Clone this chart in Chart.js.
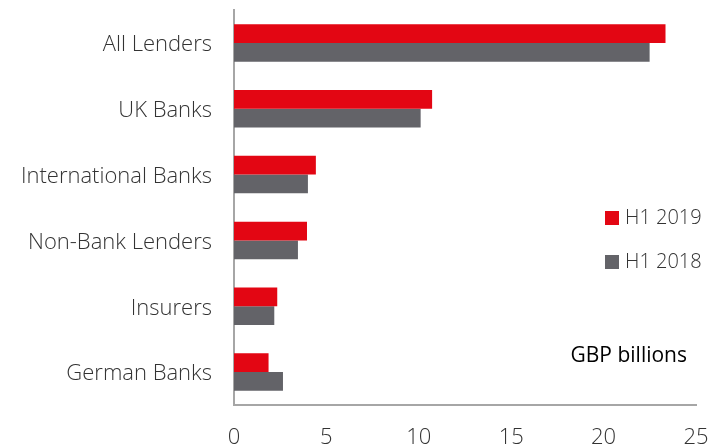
<!DOCTYPE html>
<html>
<head>
<meta charset="utf-8">
<script src="https://cdn.jsdelivr.net/npm/chart.js@4/dist/chart.umd.min.js"></script>
<style>
    html, body { margin: 0; padding: 0; background: #fff; }
    #wrap { width: 725px; height: 447px; position: relative; }
</style>
</head>
<body>
<div id="wrap"><canvas id="lenderChart"></canvas></div>
<script>
const lenders = ["All Lenders", "UK Banks", "International Banks", "Non-Bank Lenders", "Insurers", "German Banks"];
const h1_2019 = [23.35, 10.72, 4.43, 3.95, 2.34, 1.87];
const h1_2018 = [22.49, 10.1, 4.0, 3.46, 2.18, 2.65];
const xTicks = [0, 5, 10, 15, 20, 25];
const unitNote = "GBP billions";

const FONT = "'Open Sans', 'Liberation Sans', sans-serif";
const RED = "#e30613";
const GREY = "#636368";

// legend squares + unit note drawn inside the plot area
const sideLegend = {
    id: "sideLegend",
    afterDraw(chart) {
        const ctx = chart.ctx;
        ctx.save();
        ctx.font = "300 20px " + FONT;
        ctx.textBaseline = "middle";
        ctx.textAlign = "left";
        chart.data.datasets.forEach((ds, i) => {
            const y = 218 + i * 44;
            ctx.fillStyle = ds.backgroundColor;
            ctx.fillRect(605, y - 7, 14, 14);
            ctx.fillStyle = "#333";
            ctx.fillText(ds.label, 625, y);
        });
        ctx.font = "400 21px " + FONT;
        ctx.fillStyle = "#000";
        ctx.textAlign = "right";
        ctx.fillText(unitNote, 687, 356);
        ctx.restore();
    }
};

// keep the plot edges where we put them, not shifted by label overhang
function noOverhang(scale) {
    scale.paddingTop = 0;
    scale.paddingBottom = 0;
    scale.paddingLeft = 0;
    scale.paddingRight = 0;
}

new Chart(document.getElementById("lenderChart"), {
    type: "bar",
    data: {
        labels: lenders,
        datasets: [
            { label: "H1 2019", data: h1_2019, backgroundColor: RED },
            { label: "H1 2018", data: h1_2018, backgroundColor: GREY }
        ]
    },
    options: {
        indexAxis: "y",
        responsive: true,
        maintainAspectRatio: false,
        animation: false,
        layout: { padding: { top: 10, right: 29, left: 0, bottom: 0 } },
        datasets: {
            bar: { categoryPercentage: 0.57, barPercentage: 1.0 }
        },
        plugins: {
            legend: { display: false },
            tooltip: { enabled: false }
        },
        scales: {
            x: {
                min: 0,
                max: 25,
                afterBuildTicks(scale) {
                    scale.ticks = xTicks.map(v => ({ value: v }));
                },
                afterFit(scale) {
                    scale.height = 42;
                    noOverhang(scale);
                },
                grid: { display: false, drawTicks: false },
                border: { display: true, color: "#a6a6a6", width: 2 },
                ticks: {
                    padding: 20,
                    color: "#333",
                    font: { family: FONT, size: 22, weight: "300" }
                }
            },
            y: {
                afterFit(scale) {
                    scale.width = 234;
                    noOverhang(scale);
                },
                grid: { display: false, drawTicks: false },
                border: { display: true, color: "#a6a6a6", width: 2 },
                ticks: {
                    padding: 22,
                    labelOffset: 2,
                    color: "#333",
                    font: { family: FONT, size: 22, weight: "300" }
                }
            }
        }
    },
    plugins: [sideLegend]
});
</script>
</body>
</html>
